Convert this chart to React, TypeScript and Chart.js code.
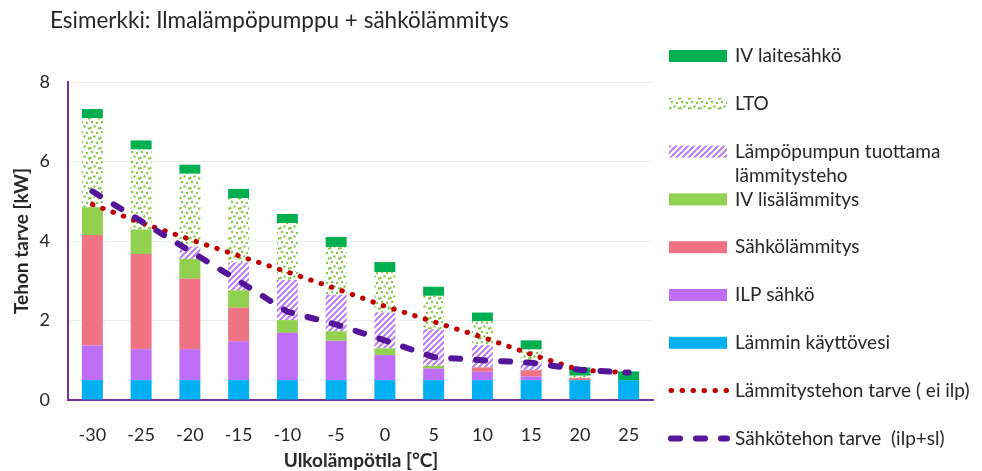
import React, { useEffect, useRef } from 'react';
import { Chart, registerables } from 'chart.js';

Chart.register(...registerables);

const title = 'Esimerkki: Ilmalämpöpumppu + sähkölämmitys';
const yTitle = 'Tehon tarve [kW]';
const xTitle = 'Ulkolämpötila [°C]';

const categories = ['-30', '-25', '-20', '-15', '-10', '-5', '0', '5', '10', '15', '20', '25'];
const yTicks = [0, 2, 4, 6, 8];

const lamminKayttovesi = [0.5, 0.5, 0.5, 0.5, 0.5, 0.5, 0.5, 0.5, 0.5, 0.5, 0.5, 0.5];
const ilpSahko = [0.87, 0.78, 0.78, 0.98, 1.19, 0.99, 0.63, 0.29, 0.21, 0.09, 0, 0];
const sahkolammitys = [2.78, 2.39, 1.77, 0.84, 0, 0, 0, 0, 0.11, 0.16, 0.05, 0];
const ivLisalammitys = [0.7, 0.62, 0.5, 0.44, 0.32, 0.24, 0.17, 0.07, 0, 0, 0, 0];
const lampopumpunTeho = [0, 0, 0.31, 0.7, 1.01, 0.92, 0.9, 0.92, 0.56, 0.21, 0, 0];
const lto = [2.24, 2.01, 1.83, 1.62, 1.43, 1.2, 1.02, 0.84, 0.6, 0.31, 0.06, 0];
const ivLaitesahko = [0.23, 0.23, 0.23, 0.23, 0.23, 0.25, 0.25, 0.23, 0.22, 0.23, 0.21, 0.22];
const lammitystehonTarve = [4.92, 4.46, 4.04, 3.63, 3.22, 2.8, 2.36, 1.97, 1.58, 1.15, 0.75, 0.69];
const sahkotehonTarve = [5.25, 4.5, 3.75, 3.0, 2.22, 1.9, 1.5, 1.08, 1.0, 0.94, 0.76, 0.69];

const FONT = 'Lato, "Open Sans", sans-serif';
const TEXT = '#262626';

function makeHatch(): CanvasPattern | string {
  const c = document.createElement('canvas');
  c.width = 6;
  c.height = 6;
  const g = c.getContext('2d');
  if (!g) return '#BA7CF7';
  g.fillStyle = '#ffffff';
  g.fillRect(0, 0, 6, 6);
  g.strokeStyle = '#BA7CF7';
  g.lineWidth = 2;
  g.beginPath();
  g.moveTo(-1, 7); g.lineTo(7, -1);
  g.moveTo(-4, 4); g.lineTo(4, -4);
  g.moveTo(2, 10); g.lineTo(10, 2);
  g.stroke();
  return g.createPattern(c, 'repeat') || '#BA7CF7';
}

function makeDots(): CanvasPattern | string {
  const c = document.createElement('canvas');
  c.width = 10;
  c.height = 10;
  const g = c.getContext('2d');
  if (!g) return '#92D050';
  g.fillStyle = '#ffffff';
  g.fillRect(0, 0, 10, 10);
  g.fillStyle = '#86C747';
  const pts = [[2, 2], [7, 3], [4.5, 6.5], [9, 8.5], [0.5, 8]];
  for (const [x, y] of pts) {
    g.beginPath();
    g.arc(x, y, 1.2, 0, Math.PI * 2);
    g.fill();
  }
  return g.createPattern(c, 'repeat') || '#92D050';
}

const legendOrder = [6, 5, 4, 3, 2, 1, 0, 7, 8];

const extrasPlugin = {
  id: 'extras',
  afterDraw(chart: any) {
    const ctx: CanvasRenderingContext2D = chart.ctx;
    ctx.save();
    // title
    ctx.fillStyle = TEXT;
    ctx.textBaseline = 'middle';
    ctx.textAlign = 'left';
    ctx.font = `22.5px ${FONT}`;
    ctx.fillText(title, 50, 21);
    // axis titles
    ctx.font = `bold 19px ${FONT}`;
    ctx.textAlign = 'center';
    const ca = chart.chartArea;
    ctx.fillText(xTitle, 361, 461);
    ctx.save();
    ctx.translate(22, 241);
    ctx.rotate(-Math.PI / 2);
    ctx.fillText(yTitle, 0, 0);
    ctx.restore();
    // legend
    const ds = chart.data.datasets;
    const boxX = 669;
    const boxW = 58;
    const textX = 735;
    const maxW = 262;
    ctx.font = `19px ${FONT}`;
    ctx.textAlign = 'left';
    legendOrder.forEach((di, i) => {
      const d = ds[di];
      const cy = 56 + i * 47.8;
      if (d.type === 'line') {
        ctx.save();
        ctx.strokeStyle = d.borderColor;
        ctx.lineWidth = d.borderWidth;
        ctx.lineCap = 'round';
        ctx.setLineDash(d.borderDash);
        ctx.beginPath();
        ctx.moveTo(boxX + 2, cy);
        ctx.lineTo(boxX + boxW, cy);
        ctx.stroke();
        ctx.restore();
      } else {
        ctx.fillStyle = d.backgroundColor;
        ctx.fillRect(boxX, cy - 6, boxW, 12);
      }
      ctx.fillStyle = TEXT;
      const words = String(d.label).split(' ');
      const lines: string[] = [];
      let cur = '';
      for (const w of words) {
        const test = cur ? cur + ' ' + w : w;
        if (ctx.measureText(test).width > maxW && cur) {
          lines.push(cur);
          cur = w;
        } else {
          cur = test;
        }
      }
      lines.push(cur);
      lines.forEach((ln, k) => ctx.fillText(ln, textX, cy + k * 24));
    });
    ctx.restore();
  },
};

export default function App() {
  const ref = useRef<HTMLCanvasElement | null>(null);
  useEffect(() => {
    if (!ref.current) return;
    const hatch = makeHatch();
    const dots = makeDots();
    const bar = (label: string, data: number[], color: any) => ({
      type: 'bar' as const,
      label,
      data,
      backgroundColor: color,
      borderWidth: 0,
      stack: 'bars',
      order: 2,
      categoryPercentage: 1,
      barPercentage: 0.43,
    });
    const chart = new Chart(ref.current, {
      type: 'bar',
      data: {
        labels: categories,
        datasets: [
          bar('Lämmin käyttövesi', lamminKayttovesi, '#00B0F0'),
          bar('ILP sähkö', ilpSahko, '#BF6EF8'),
          bar('Sähkölämmitys', sahkolammitys, '#EF7383'),
          bar('IV lisälämmitys', ivLisalammitys, '#92D050'),
          bar('Lämpöpumpun tuottama lämmitysteho', lampopumpunTeho, hatch),
          bar('LTO', lto, dots),
          bar('IV laitesähkö', ivLaitesahko, '#00B050'),
          {
            type: 'line' as const,
            label: 'Lämmitystehon tarve ( ei ilp)',
            data: lammitystehonTarve,
            borderColor: '#C00000',
            backgroundColor: '#C00000',
            borderWidth: 5,
            borderDash: [0.5, 10.5],
            borderCapStyle: 'round',
            pointRadius: 0,
            tension: 0,
            stack: 'l1',
            order: 1,
          },
          {
            type: 'line' as const,
            label: 'Sähkötehon tarve  (ilp+sl)',
            data: sahkotehonTarve,
            borderColor: '#54159A',
            backgroundColor: '#54159A',
            borderWidth: 6,
            borderDash: [9, 16],
            borderCapStyle: 'round',
            pointRadius: 0,
            tension: 0,
            stack: 'l2',
            order: 0,
          },
        ] as any,
      },
      options: {
        responsive: false,
        animation: false,
        layout: { padding: { left: 0, top: 82, right: 329, bottom: 0 } },
        plugins: {
          legend: { display: false },
          tooltip: { enabled: false },
          title: { display: false },
        },
        scales: {
          x: {
            stacked: true,
            offset: true,
            grid: { display: false, drawTicks: false },
            border: { color: '#7030A0', width: 2 },
            ticks: { font: { family: FONT, size: 18 }, color: TEXT, padding: 24, maxRotation: 0 },
            afterFit: (s: any) => { s.height = 71; },
          },
          y: {
            stacked: true,
            min: 0,
            max: 8,
            grid: { color: '#EEEEEE', drawTicks: false },
            border: { color: '#7030A0', width: 2 },
            ticks: { font: { family: FONT, size: 18 }, color: TEXT, padding: 18 },
            afterBuildTicks: (s: any) => { s.ticks = yTicks.map((v) => ({ value: v })); },
            afterFit: (s: any) => { s.width = 68; },
          },
        },
      } as any,
      plugins: [extrasPlugin],
    });
    return () => chart.destroy();
  }, []);
  return (
    <div style={{ position: 'absolute', left: 0, top: 0, width: 982, height: 471, background: '#fff' }}>
      <canvas ref={ref} width={982} height={471} style={{ display: 'block' }} />
    </div>
  );
}
